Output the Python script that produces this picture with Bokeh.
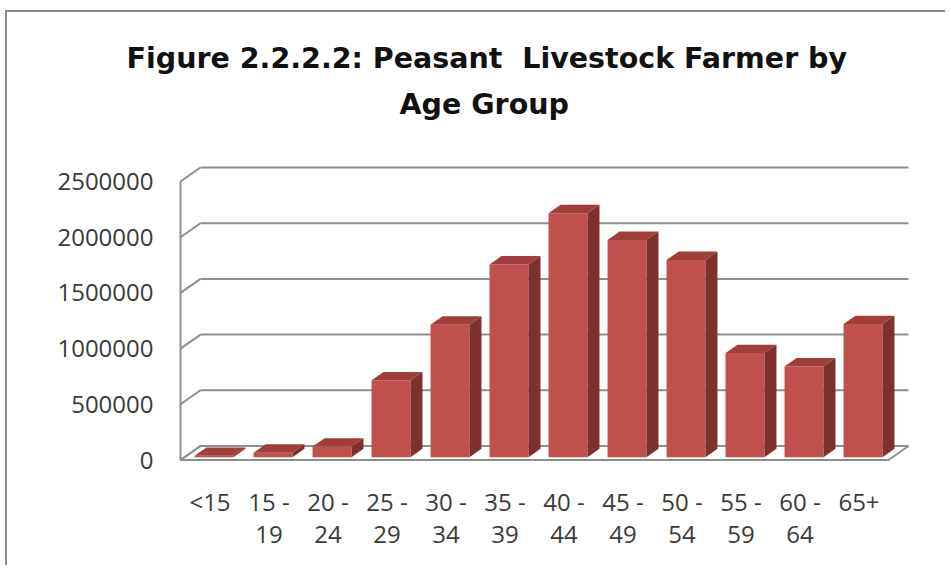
from bokeh.plotting import figure
from bokeh.models import Range1d, FixedTicker, NumeralTickFormatter, LinearAxis, Title
from bokeh.embed import file_html
from bokeh.resources import INLINE

# ---------------- data ----------------
AGE_GROUPS = ["<15", "15 - 19", "20 - 24", "25 - 29", "30 - 34", "35 - 39",
              "40 - 44", "45 - 49", "50 - 54", "55 - 59", "60 - 64", "65+"]
FARMERS = [12000, 40000, 95000, 690000, 1190000, 1730000,
           2190000, 1950000, 1770000, 935000, 815000, 1195000]
Y_TICKS = [0, 500000, 1000000, 1500000, 2000000, 2500000]
TITLE_LINE1 = "Figure 2.2.2.2: Peasant\u00a0 Livestock Farmer by"
TITLE_LINE2 = "Age Group"

# ---------------- layout (page pixels) ----------------
OX, OY = 7, 12            # canvas origin on the page
W, H = 940, 555
FRAME_L, FRAME_R, FRAME_T, FRAME_B = 175, 935, 140, 470
CAT0_X, CAT_PX = 209.5, 59.0
ZERO_Y, PX_PER_STEP = 459.5, 55.7
UPP = 500000 / PX_PER_STEP


def to_x(px):
    return (px - CAT0_X) / CAT_PX


def to_y(py):
    return (ZERO_Y - py) * UPP


DEPTH_X = 20 / CAT_PX
DEPTH_Y = 14 * UPP
BAR_FRONT, BAR_BACK, BAR_HALF = 0.2, 0.8, 0.33

GRID = "#8e8e8e"
FRONT = "#C0504D"
TOP = "#A03E3B"
SIDE = "#7E302E"
LABEL = "#3a3a3a"
TITLE_FONT = "DejaVu Sans"
TITLE_SIZE = "28.5px"

p = figure(width=W, height=H,
           x_range=Range1d(to_x(FRAME_L), to_x(FRAME_R)),
           y_range=Range1d(to_y(FRAME_B), to_y(FRAME_T)),
           output_backend="svg", toolbar_location=None,
           x_axis_type=None, y_axis_type=None,
           min_border_left=FRAME_L - OX, min_border_right=OX + W - FRAME_R,
           min_border_top=FRAME_T - OY, min_border_bottom=OY + H - FRAME_B)
p.outline_line_color = None
p.background_fill_color = "white"
p.border_fill_color = "white"
p.styles = {"border-left": "2px solid #8c8c8c", "border-top": "2px solid #8c8c8c",
            "margin-left": "5px", "margin-top": "10px"}

n = len(AGE_GROUPS)
x_lo, x_hi = -0.5, n - 0.5
y_max = Y_TICKS[-1]

# floor
p.patch([x_lo, x_hi, x_hi + DEPTH_X, x_lo + DEPTH_X], [0, 0, DEPTH_Y, DEPTH_Y],
        fill_color="white", line_color=GRID, line_width=2)
# back wall gridlines
p.segment(x0=[x_lo + DEPTH_X] * len(Y_TICKS), y0=[t + DEPTH_Y for t in Y_TICKS],
          x1=[x_hi + DEPTH_X] * len(Y_TICKS), y1=[t + DEPTH_Y for t in Y_TICKS],
          line_color=GRID, line_width=2)
# left wall
p.segment(x0=[x_lo] * len(Y_TICKS), y0=Y_TICKS,
          x1=[x_lo + DEPTH_X] * len(Y_TICKS), y1=[t + DEPTH_Y for t in Y_TICKS],
          line_color=GRID, line_width=2)
p.segment(x0=[x_lo], y0=[0], x1=[x_lo], y1=[y_max], line_color=GRID, line_width=2)

# bars
idx = list(range(n))
left = [i - BAR_HALF + BAR_FRONT * DEPTH_X for i in idx]
right = [i + BAR_HALF + BAR_FRONT * DEPTH_X for i in idx]
base = BAR_FRONT * DEPTH_Y
tops = [base + v for v in FARMERS]
ddx = (BAR_BACK - BAR_FRONT) * DEPTH_X
ddy = (BAR_BACK - BAR_FRONT) * DEPTH_Y

p.quad(left=left, right=right, bottom=[base] * n, top=tops,
       fill_color=FRONT, line_color=None)
p.patches(xs=[[l, r, r + ddx, l + ddx] for l, r in zip(left, right)],
          ys=[[t, t, t + ddy, t + ddy] for t in tops],
          fill_color=TOP, line_color=None)
p.patches(xs=[[r, r + ddx, r + ddx, r] for r in right],
          ys=[[base, base + ddy, t + ddy, t] for t in tops],
          fill_color=SIDE, line_color=None)

# axes
yaxis = LinearAxis(ticker=FixedTicker(ticks=Y_TICKS),
                   formatter=NumeralTickFormatter(format="0"))
yaxis.axis_line_color = None
yaxis.major_tick_line_color = None
yaxis.minor_tick_line_color = None
yaxis.major_label_standoff = 16
yaxis.major_label_text_font = "Open Sans"
yaxis.major_label_text_font_size = "24px"
yaxis.major_label_text_color = LABEL
p.add_layout(yaxis, "left")

xaxis = LinearAxis(ticker=FixedTicker(ticks=idx),
                   major_label_overrides={i: lab.replace(" - ", " -\n")
                                          for i, lab in enumerate(AGE_GROUPS)})
xaxis.axis_line_color = None
xaxis.major_tick_line_color = None
xaxis.minor_tick_line_color = None
xaxis.major_label_standoff = 8
xaxis.major_label_text_font = "Open Sans"
xaxis.major_label_text_font_size = "24px"
xaxis.major_label_text_line_height = 0.97
xaxis.major_label_text_color = LABEL
p.add_layout(xaxis, "below")

# title (two lines; later additions sit further from the frame)
p.add_layout(Title(text=TITLE_LINE2, align="left", offset=399 - FRAME_L, standoff=40,
                   text_font=TITLE_FONT, text_font_style="bold",
                   text_font_size=TITLE_SIZE, text_color="#111111"), "above")
p.add_layout(Title(text=TITLE_LINE1, align="left", offset=126 - FRAME_L, standoff=-18,
                   text_font=TITLE_FONT, text_font_style="bold",
                   text_font_size=TITLE_SIZE, text_color="#111111"), "above")

open("out.html", "w").write(file_html(p, INLINE))
